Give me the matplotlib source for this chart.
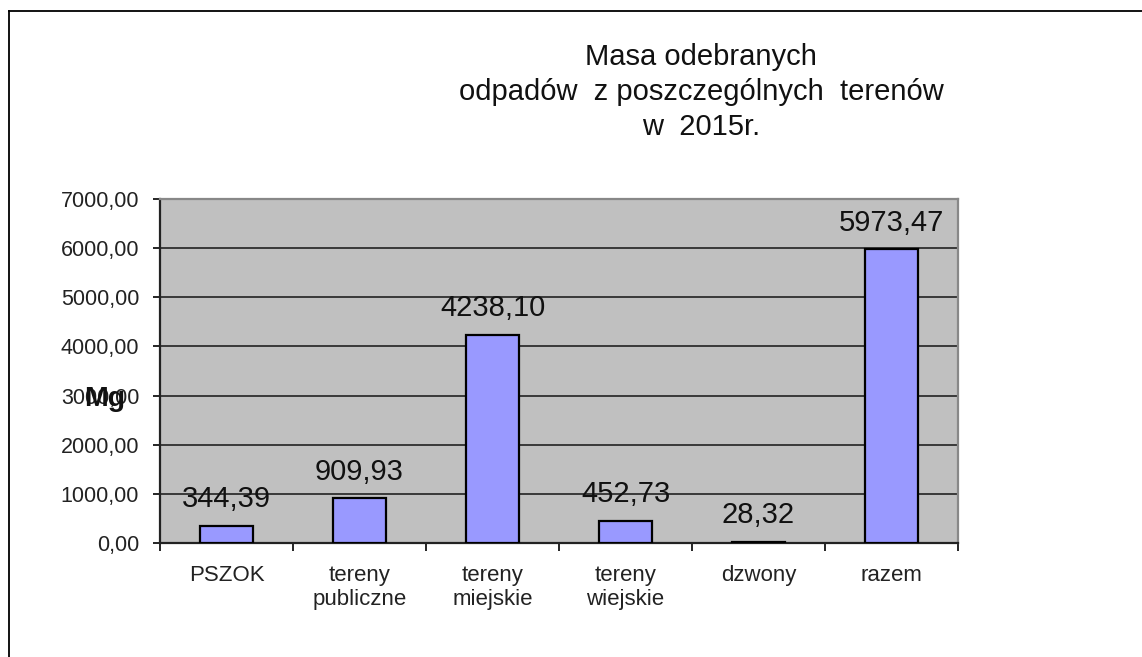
import matplotlib.pyplot as plt
from matplotlib.lines import Line2D
from matplotlib.ticker import FixedLocator, FuncFormatter

plt.rcParams['font.family'] = ['Liberation Sans', 'DejaVu Sans']

# data
categories = ['PSZOK', 'tereny\npubliczne', 'tereny\nmiejskie', 'tereny\nwiejskie', 'dzwony', 'razem']
values = [344.39, 909.93, 4238.10, 452.73, 28.32, 5973.47]
title = 'Masa odebranych\nodpadów  z poszczególnych  terenów\nw  2015r.'

fig = plt.figure(figsize=(11.42, 6.57), dpi=100)
ax = fig.add_axes([0.1401, 0.1735, 0.6988, 0.5236])   # plot area in figure fractions

x = list(range(len(categories)))
ax.bar(x, values, width=0.4, color='#9999ff', edgecolor='black', linewidth=1.6, zorder=3)

for xi, v in zip(x, values):
    lbl = f'{v:.2f}'.replace('.', ',')
    ax.annotate(lbl, (xi, v), xytext=(0, 13.5), textcoords='offset points',
                ha='center', va='baseline', fontsize=21, color='#111111', zorder=4)

ax.set_xlim(-0.5, len(categories) - 0.5)
ax.set_ylim(0, 7000)
ax.set_facecolor('#c0c0c0')

# y axis
ax.yaxis.set_major_locator(FixedLocator(range(0, 7001, 1000)))
ax.yaxis.set_major_formatter(FuncFormatter(lambda v, p: f'{v:.2f}'.replace('.', ',')))
ax.tick_params(axis='y', direction='out', length=5, width=1.2, pad=10,
               labelsize=15.5, labelcolor='#222222')
ax.grid(axis='y', color='#222222', linewidth=1.2, zorder=1)
ax.set_axisbelow(True)

# x axis: separators as major ticks, names as minor ticks
ax.xaxis.set_major_locator(FixedLocator([i - 0.5 for i in range(len(categories) + 1)]))
ax.xaxis.set_major_formatter(FuncFormatter(lambda v, p: ''))
ax.xaxis.set_minor_locator(FixedLocator(x))
ax.set_xticklabels(categories, minor=True, fontsize=16, color='#222222', linespacing=1.2)
ax.tick_params(axis='x', which='major', direction='out', length=6, width=1.2)
ax.tick_params(axis='x', which='minor', length=0, pad=16)

for side in ['left', 'bottom']:
    ax.spines[side].set_color('#222222')
    ax.spines[side].set_linewidth(1.6)
for side in ['top', 'right']:
    ax.spines[side].set_color('#888888')
    ax.spines[side].set_linewidth(1.6)

fig.text(0.614, 0.935, title, ha='center', va='top', fontsize=21,
         linespacing=1.33, color='#111111')
fig.text(0.092, 0.392, 'Mg', ha='center', va='center', fontsize=20.5,
         fontweight='bold', color='#111111')

# outer frame (left and top edges only visible)
fig.add_artist(Line2D([0.0079, 0.0079], [0.0, 0.983], color='black', linewidth=1.3))
fig.add_artist(Line2D([0.0079, 1.0], [0.983, 0.983], color='black', linewidth=1.3))

fig.savefig('out.png', dpi=100)
